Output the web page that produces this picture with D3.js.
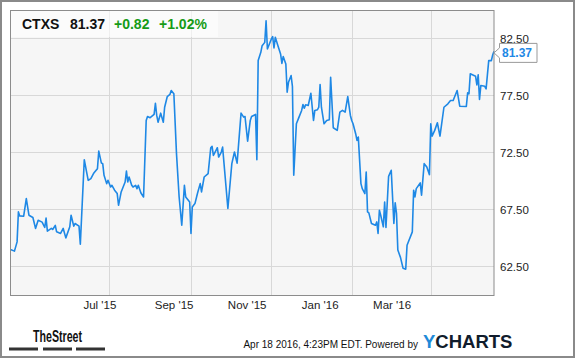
<!DOCTYPE html>
<html>
<head>
<meta charset="utf-8">
<script src="https://cdn.jsdelivr.net/npm/d3@7"></script>
<style>
  body { margin: 0; background: #fff; }
  svg { display: block; font-family: 'Liberation Sans', Arial, sans-serif; }
</style>
</head>
<body>
<svg id="chart"></svg>
<script>
// quote header
const ticker = 'CTXS';
const lastPrice = 81.37;
const change = '+0.82';
const changePct = '+1.02%';
const stamp = 'Apr 18 2016, 4:23PM EDT. Powered by';

// daily closes
const dates = [
  '2015-04-17','2015-04-20','2015-04-22','2015-04-23','2015-04-24','2015-04-27','2015-04-29','2015-05-01',
  '2015-05-04','2015-05-06','2015-05-08','2015-05-11','2015-05-13','2015-05-14','2015-05-15','2015-05-18',
  '2015-05-19','2015-05-21','2015-05-22','2015-05-25','2015-05-27','2015-05-29','2015-06-01','2015-06-02',
  '2015-06-04','2015-06-05','2015-06-08','2015-06-09','2015-06-12','2015-06-14','2015-06-15','2015-06-17',
  '2015-06-19','2015-06-21','2015-06-22','2015-06-23','2015-06-25','2015-06-26','2015-06-27','2015-06-29',
  '2015-06-30','2015-07-02','2015-07-03','2015-07-05','2015-07-07','2015-07-08','2015-07-10','2015-07-13',
  '2015-07-14','2015-07-15','2015-07-16','2015-07-18','2015-07-19','2015-07-21','2015-07-22','2015-07-23',
  '2015-07-25','2015-07-27','2015-07-29','2015-07-30','2015-08-01','2015-08-04','2015-08-05','2015-08-06',
  '2015-08-07','2015-08-09','2015-08-11','2015-08-12','2015-08-14','2015-08-16','2015-08-17','2015-08-19',
  '2015-08-21','2015-08-23','2015-08-25','2015-08-27','2015-08-28','2015-08-31','2015-09-01','2015-09-02',
  '2015-09-04','2015-09-06','2015-09-08','2015-09-09','2015-09-11','2015-09-14','2015-09-16','2015-09-17',
  '2015-09-18','2015-09-20','2015-09-21','2015-09-22','2015-09-24','2015-09-25','2015-09-29','2015-10-02',
  '2015-10-04','2015-10-06','2015-10-09','2015-10-11','2015-10-12','2015-10-14','2015-10-16','2015-10-17',
  '2015-10-20','2015-10-21','2015-10-22','2015-10-24','2015-10-25','2015-10-27','2015-10-28','2015-10-29',
  '2015-11-01','2015-11-02','2015-11-03','2015-11-04','2015-11-06','2015-11-08','2015-11-09','2015-11-10',
  '2015-11-12','2015-11-13','2015-11-14','2015-11-16','2015-11-17','2015-11-18','2015-11-20','2015-11-22',
  '2015-11-24','2015-11-25','2015-11-26','2015-11-27','2015-11-29','2015-12-01','2015-12-03','2015-12-04',
  '2015-12-06','2015-12-07','2015-12-08','2015-12-09','2015-12-11','2015-12-13','2015-12-15','2015-12-16',
  '2015-12-18','2015-12-21','2015-12-23','2015-12-25','2015-12-27','2015-12-29','2015-12-31','2016-01-01',
  '2016-01-02','2016-01-04','2016-01-05','2016-01-06','2016-01-08','2016-01-09','2016-01-11','2016-01-12',
  '2016-01-13','2016-01-14','2016-01-16','2016-01-19','2016-01-20','2016-01-21','2016-01-22','2016-01-23',
  '2016-01-25','2016-01-26','2016-01-27','2016-01-29','2016-01-31','2016-02-02','2016-02-03','2016-02-04',
  '2016-02-05','2016-02-07','2016-02-09','2016-02-11','2016-02-12','2016-02-16','2016-02-17','2016-02-18',
  '2016-02-19','2016-02-22','2016-02-23','2016-02-25','2016-02-27','2016-02-29','2016-03-01','2016-03-02',
  '2016-03-04','2016-03-06','2016-03-08','2016-03-11','2016-03-14','2016-03-16','2016-03-18','2016-03-21',
  '2016-03-23','2016-03-28','2016-03-29','2016-03-30','2016-03-31','2016-04-04','2016-04-05','2016-04-06',
  '2016-04-07','2016-04-08','2016-04-11','2016-04-12','2016-04-14','2016-04-16','2016-04-17','2016-04-18'
];
const prices = [
  64.00, 63.85, 64.66, 67.29, 66.94, 66.91, 68.46, 67.00,
  66.80, 65.84, 66.56, 66.39, 65.92, 66.74, 65.60, 65.84,
  65.75, 66.10, 65.54, 65.40, 65.84, 65.01, 65.98, 67.00,
  66.04, 66.27, 66.04, 64.46, 71.87, 70.65, 70.06, 70.21,
  70.65, 70.94, 71.08, 72.62, 71.57, 71.52, 70.50, 69.77,
  70.06, 69.47, 69.62, 69.19, 68.90, 67.87, 69.04, 69.91,
  70.87, 69.91, 70.35, 69.62, 69.47, 69.62, 69.33, 69.62,
  68.95, 68.60, 75.31, 75.66, 75.55, 75.84, 76.82, 75.75,
  75.16, 75.95, 75.16, 76.47, 77.41, 77.59, 77.94, 77.65,
  72.40, 68.60, 66.12, 69.62, 68.60, 68.16, 65.40, 67.73,
  68.02, 68.95, 69.77, 69.04, 70.35, 70.65, 72.92, 73.04,
  72.25, 72.69, 72.92, 72.10, 72.54, 72.97, 67.59, 71.52,
  72.54, 71.57, 75.95, 75.60, 75.66, 73.50, 75.31, 75.66,
  75.84, 71.87, 80.56, 81.29, 81.87, 82.16, 84.06, 81.58,
  82.46, 82.66, 81.67, 82.60, 81.87, 81.15, 80.32, 80.91,
  80.27, 77.79, 78.66, 79.25, 78.29, 70.50, 75.02, 75.60,
  76.19, 76.71, 76.39, 76.68, 76.62, 77.70, 75.31, 76.19,
  76.25, 76.47, 78.46, 76.47, 75.02, 75.31, 75.37, 79.10,
  74.67, 74.44, 76.04, 76.19, 76.04, 77.41, 75.75, 75.31,
  75.02, 74.15, 73.56, 73.85, 69.77, 69.33, 68.90, 70.79,
  67.29, 67.20, 66.27, 66.12, 66.41, 65.40, 67.44, 67.00,
  65.98, 68.16, 65.92, 70.41, 70.94, 66.27, 68.08, 67.15,
  63.94, 63.30, 62.34, 62.27, 64.37, 65.54, 69.19, 68.60,
  69.33, 69.83, 68.75, 71.52, 71.22, 70.56, 75.02, 73.94,
  74.44, 75.11, 73.94, 76.47, 76.77, 77.06, 77.06, 77.94,
  76.56, 76.54, 77.73, 77.65, 79.40, 79.19, 78.43, 79.31,
  77.15, 78.37, 78.31, 78.08, 80.56, 80.56, 81.06, 81.37
];

const yTicks = [62.5, 67.5, 72.5, 77.5, 82.5];
const xTicks = ['2015-07-01', '2015-09-01', '2015-11-01', '2016-01-01', '2016-03-01'];
const xDomain = ['2015-04-17', '2016-04-18'];
const yDomain = [60, 85];

const width = 575, height = 358;
const plot = { left: 10.5, right: 494, top: 10, bottom: 295 };

const parseDate = d3.timeParse('%Y-%m-%d');
const data = dates.map((d, i) => ({ date: parseDate(d), price: prices[i] }));

const svg = d3.select('#chart')
  .attr('width', width)
  .attr('height', height);

// outer frame
svg.append('rect')
  .attr('x', 1).attr('y', 1)
  .attr('width', width - 2).attr('height', height - 2)
  .attr('fill', '#fff')
  .attr('stroke', '#8a8a8a')
  .attr('stroke-width', 2);

const x = d3.scaleTime()
  .domain(xDomain.map(parseDate))
  .range([plot.left, plot.right]);

const y = d3.scaleLinear()
  .domain(yDomain)
  .range([plot.bottom, plot.top]);

// plot background
svg.append('rect')
  .attr('x', plot.left).attr('y', plot.top + 0.5)
  .attr('width', plot.right - plot.left).attr('height', plot.bottom - plot.top)
  .attr('fill', '#f6f6f6');

// grid
svg.append('g')
  .selectAll('line')
  .data(yTicks)
  .join('line')
  .attr('x1', plot.left).attr('x2', plot.right)
  .attr('y1', d => y(d)).attr('y2', d => y(d))
  .attr('stroke', '#d8d8d8');

svg.append('g')
  .selectAll('line')
  .data(xTicks.map(parseDate))
  .join('line')
  .attr('x1', d => Math.round(x(d)) + 0.5).attr('x2', d => Math.round(x(d)) + 0.5)
  .attr('y1', plot.top).attr('y2', plot.bottom)
  .attr('stroke', '#d8d8d8');

// price line
const line = d3.line()
  .x(d => x(d.date))
  .y(d => y(d.price));

svg.append('path')
  .datum(data)
  .attr('fill', 'none')
  .attr('stroke', '#1e88e5')
  .attr('stroke-width', 1.6)
  .attr('stroke-linejoin', 'round')
  .attr('d', line);

// plot frame
svg.append('rect')
  .attr('x', plot.left).attr('y', plot.top + 0.5)
  .attr('width', plot.right - plot.left).attr('height', plot.bottom - plot.top)
  .attr('fill', 'none')
  .attr('stroke', '#8c8c8c');

// y axis labels on the right
const yAxis = svg.append('g')
  .attr('transform', `translate(${plot.right},0)`)
  .call(d3.axisRight(y).tickValues(yTicks).tickSize(0).tickPadding(6).tickFormat(d3.format('.2f')));
yAxis.select('.domain').remove();
yAxis.selectAll('text')
  .attr('fill', '#222')
  .style('font-size', '11.5px')
  .style('font-family', "'Liberation Sans', Arial, sans-serif");

// x axis labels (yCharts draws them a bit left of the gridlines)
const xLabel = x.copy().range([plot.left * 0.909, plot.right * 0.909]);
const xAxis = svg.append('g')
  .attr('transform', `translate(0,${plot.bottom})`)
  .call(d3.axisBottom(xLabel).tickValues(xTicks.map(parseDate)).tickSize(0).tickPadding(6)
    .tickFormat(d3.timeFormat("%b '%y")));
xAxis.select('.domain').remove();
xAxis.selectAll('text')
  .attr('fill', '#222')
  .style('font-size', '11.5px')
  .style('font-family', "'Liberation Sans', Arial, sans-serif");

// header box
svg.append('rect')
  .attr('x', plot.left + 0.5).attr('y', plot.top + 1)
  .attr('width', 207).attr('height', 26)
  .attr('fill', '#fff')
  .attr('opacity', 0.6);

const header = svg.append('text')
  .attr('y', 29)
  .style('font-size', '14px')
  .style('font-weight', 'bold');
header.append('tspan').attr('x', 22).attr('fill', '#111').text(ticker);
header.append('tspan').attr('x', 70).attr('fill', '#111').text(lastPrice.toFixed(2));
header.append('tspan').attr('x', 114).attr('fill', '#169b16').text(change);
header.append('tspan').attr('x', 159).attr('fill', '#169b16').text(changePct);

// last price tag
const last = data[data.length - 1];
const cy = y(last.price) + 1.5;
const tip = x(last.date);
svg.append('path')
  .attr('d', `M${tip},${cy} L${tip + 5.5},${cy - 5} V${cy - 9.5} H${tip + 43} V${cy + 9.5} H${tip + 5.5} V${cy + 5} Z`)
  .attr('fill', '#fff')
  .attr('stroke', '#999');
svg.append('text')
  .attr('x', tip + 8).attr('y', cy + 4.5)
  .attr('fill', '#1e88e5')
  .style('font-size', '12px')
  .style('font-weight', 'bold')
  .text(last.price.toFixed(2));

// footer: TheStreet logo
svg.append('text')
  .attr('x', 33).attr('y', 342)
  .attr('fill', '#111')
  .attr('textLength', 49)
  .attr('lengthAdjust', 'spacingAndGlyphs')
  .style('font-size', '16px')
  .style('font-weight', 'bold')
  .text('TheStreet');
svg.append('g')
  .selectAll('rect')
  .data([9, 43, 76])
  .join('rect')
  .attr('x', d => d).attr('y', 347.5)
  .attr('width', 29).attr('height', 3)
  .attr('fill', '#333');

// footer: timestamp + YCHARTS
svg.append('text')
  .attr('x', 418).attr('y', 348)
  .attr('text-anchor', 'end')
  .attr('fill', '#111')
  .style('font-size', '10px')
  .text(stamp);
const yc = svg.append('text')
  .attr('x', 423).attr('y', 348)
  .style('font-size', '18.5px')
  .style('font-weight', 'bold');
yc.append('tspan').attr('fill', '#1e8ad8').text('Y');
yc.append('tspan').attr('fill', '#101c2c').text('CHARTS');
</script>
</body>
</html>
